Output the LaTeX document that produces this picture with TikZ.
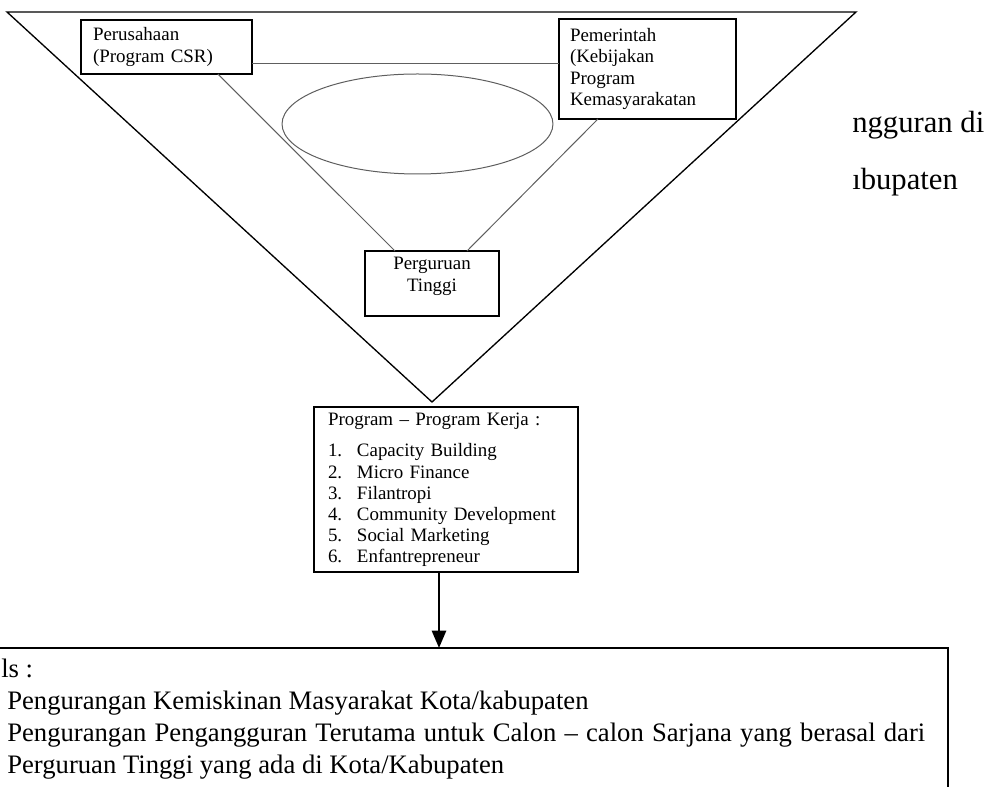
\documentclass[tikz,border=0pt]{standalone}
\usepackage{fontspec}
\setmainfont{Liberation Serif}
\usepackage{xcolor}
\usetikzlibrary{arrows.meta, calc, positioning}
\definecolor{linegray}{HTML}{5E5E5E}
\tikzset{
  >=latex,  % frecce di default
  % Riquadri con testo
  box/.style={rectangle,draw=black,line width=0.9pt,inner sep=0pt,outer sep=0pt,align=left,
    font=\fontsize{14.2}{15.8}\selectfont},
  box label/.style={inner sep=0pt,align=center,font=\fontsize{14.2}{16.5}\selectfont},
  result text/.style={anchor=base west,inner sep=0pt,font=\fontsize{20}{24}\selectfont},
  side text/.style={anchor=base west,inner sep=0pt,font=\fontsize{23}{27}\selectfont},
  % Connessioni
  connect/.style={linegray,line width=0.75pt},
  connect arrow/.style={-{Triangle[length=13pt,width=10.5pt]},black,line width=2pt},
  frame/.style={black,line width=1pt}
}
\begin{document}
\begin{tikzpicture}[x=0.75pt,y=-0.75pt]
  \clip (0,0) rectangle (1003,787);
  \draw[frame] (7,12) -- (856,12) -- (432,402) -- cycle;
  \draw[connect] (417.5,124) ellipse [x radius=101.6pt, y radius=37.5pt];
  \node[box,minimum width=128.25pt,minimum height=40.5pt,inner xsep=9pt,text width=110.25pt]
    (perus) at (166.5,47) {Perusahaan\\(Program CSR)};
  \node[box,minimum width=132.75pt,minimum height=75pt,inner xsep=8.25pt,text width=116.25pt]
    (pemer) at (647.5,69) {Pemerintah\\(Kebijakan\\Program\\Kemasyarakatan};
  \node[box,minimum width=100.5pt,minimum height=48.75pt] (pt) at (432,283.5) {};
  \node[box label] (ptlabel) at (432,276) {Perguruan\\Tinggi};
  \node[box,minimum width=198pt,minimum height=123.75pt,inner xsep=10.5pt,text width=177pt]
    (prog) at (446,489.5) {Program -- Program Kerja :\\[8pt]
      \makebox[21.75pt][l]{1.}Capacity Building\\
      \makebox[21.75pt][l]{2.}Micro Finance\\
      \makebox[21.75pt][l]{3.}Filantropi\\
      \makebox[21.75pt][l]{4.}Community Development\\
      \makebox[21.75pt][l]{5.}Social Marketing\\
      \makebox[21.75pt][l]{6.}Enfantrepreneur};
  \node[box,minimum width=763.5pt,minimum height=151.5pt] (hasil) at (439,749) {};
  \draw[connect] (perus.east |- 0,64) -- (pemer.west |- 0,64);
  \draw[connect] ($(perus.south west)!0.8!(perus.south east)$) -- ($(pt.north west)!0.224!(pt.north east)$);
  \draw[connect] ($(pemer.south west)!0.22!(pemer.south east)$) -- ($(pt.north west)!0.761!(pt.north east)$);
  \draw[connect arrow] (prog.south -| hasil.north) -- (hasil.north);
  \node[result text] (h0) at (1,677) {ls :};
  \node[result text] (h1) at (7,709) {Pengurangan Kemiskinan Masyarakat Kota/kabupaten};
  \node[result text] (h2) at (7,741) {\makebox[688.5pt][s]{Pengurangan Pengangguran Terutama untuk Calon -- calon Sarjana yang berasal dari}};
  \node[result text] (h3) at (7,773) {Perguruan Tinggi yang ada di Kota/Kabupaten};
  \node[side text] (frag1) at (852,133) {ngguran di};
  \node[side text] (frag2) at (852,190) {ıbupaten};
\end{tikzpicture}
\end{document}
